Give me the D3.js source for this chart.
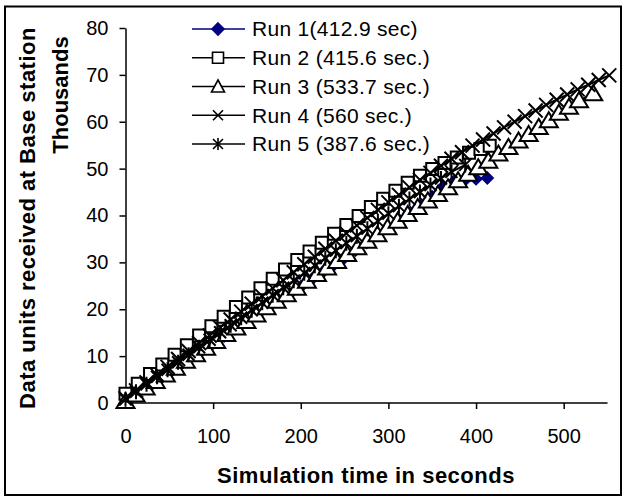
<!DOCTYPE html>
<html>
<head>
<meta charset="utf-8">
<script src="https://cdn.jsdelivr.net/npm/d3@7"></script>
<style>
  body { margin: 0; background: #fff; }
  text { font-family: "Liberation Sans", Arial, sans-serif; }
</style>
</head>
<body>
<script>
// values (time in sec, data units in thousands)
var run1Time  = [0,12.5,25,37.5,50,62.5,75,87.5,100,112.5,125,137.5,150,162.5,175,187.5,200,212.5,225,237.5,250,262.5,275,287.5,300,312.5,325,337.5,350,362.5,375,387.5,400,412.9];
var run1Value = [0.8,2.2,3.7,5.2,6.7,8.3,9.8,11.3,12.8,14.3,15.8,17.3,18.8,20.3,21.8,23.3,24.8,26.4,27.9,29.4,31.0,32.6,34.2,35.8,37.4,39.0,40.6,42.3,44.0,46.2,47.3,47.6,47.8,48.0];

var run2Time  = [0,14,28,42,56,70,84,98,112,126,140,154,168,182,196,210,224,238,252,266,280,294,308,322,336,350,364,378,392,405,415.6];
var run2Value = [2.0,4.1,6.2,8.2,10.3,12.3,14.4,16.4,18.4,20.5,22.5,24.5,26.5,28.5,30.5,32.3,34.2,36.1,38.0,39.9,41.8,43.6,45.3,47.0,48.5,49.9,51.2,52.4,53.4,54.2,54.9];

var run3Time  = [0,11.5,23,34.5,46,57.5,69,80.5,92,103.5,115,126.5,138,149.5,161,172.5,184,195.5,207,218.5,230,241.5,253,264.5,276,287.5,299,310.5,322,333.5,345,356.5,368,379.5,391,402.5,414,425.5,437,448.5,460,471.5,483,494.5,506,517.5,533.7];
var run3Value = [0.3,1.7,3.2,4.6,6.0,7.4,8.9,10.3,11.7,13.1,14.6,16.0,17.4,18.8,20.3,21.7,23.1,24.5,26.0,27.4,28.8,30.2,31.7,33.1,34.5,35.9,37.4,38.8,40.2,41.7,43.1,44.5,45.9,47.4,48.8,50.2,51.6,53.1,54.5,55.9,57.3,58.8,60.2,61.8,63.1,64.5,66.0];

var run4Time  = [0,12,24,36,48,60,72,84,96,108,120,132,144,156,168,180,192,204,216,228,240,252,264,276,288,300,312,324,336,348,360,372,384,396,408,420,432,444,456,468,480,492,504,516,528,540,552];
var run4Value = [1.0,2.7,4.4,6.0,7.7,9.4,11.1,12.8,14.4,16.1,17.8,19.5,21.2,22.8,24.5,26.2,27.9,29.6,31.2,32.9,34.6,36.2,37.9,39.5,41.2,42.8,44.4,46.0,47.6,49.1,50.6,52.1,53.5,54.9,56.2,57.5,58.8,60.0,61.2,62.4,63.6,64.7,65.8,66.9,67.9,68.9,69.9];

var run5Time  = [0,12,24,36,48,60,72,84,96,108,120,132,144,156,168,180,192,204,216,228,240,252,264,276,288,300,312,324,336,348,360,372,387.6];
var run5Value = [0.8,2.4,4.0,5.6,7.1,8.7,10.3,11.9,13.5,15.1,16.6,18.2,19.8,21.4,23.0,24.6,26.1,27.7,29.3,30.9,32.5,34.1,35.6,37.2,38.8,40.4,42.0,43.5,45.0,46.5,47.9,49.3,50.8];

var seriesNames = ["Run 1(412.9 sec)", "Run 2 (415.6 sec.)", "Run 3 (533.7 sec.)", "Run 4 (560 sec.)", "Run 5 (387.6 sec.)"];
var xTicks = [0, 100, 200, 300, 400, 500];
var yTicks = [0, 10, 20, 30, 40, 50, 60, 70, 80];

// marker paths, centred on 0,0 (plot markers are a bit bigger than legend ones)
var markers = {
  diamond:  "M0,-5.5L5.5,0L0,5.5L-5.5,0Z",
  square:   "M-6,-6H6V6H-6Z",
  triangle: "M0,-8.5L9,6.5L-9,6.5Z",
  cross:    "M-7,-7L7,7M-7,7L7,-7",
  star:     "M-6,-6L6,6M-6,6L6,-6M0,-7.5L0,7.5"
};
var legendMarkers = {
  diamond:  "M0,-6L6,0L0,6L-6,0Z",
  square:   "M-5.5,-5.5H5.5V5.5H-5.5Z",
  triangle: "M0,-6.5L6.5,5.5L-6.5,5.5Z",
  cross:    "M-5,-5L5,5M-5,5L5,-5",
  star:     "M-5,-5L5,5M-5,5L5,-5M0,-6L0,6"
};

function drawChart() {
  var width = 624, height = 497;

  var svg = d3.select("body").append("svg")
      .attr("width", width)
      .attr("height", height);

  // outer frame
  svg.append("rect")
      .attr("x", 5).attr("y", 6.5)
      .attr("width", 616).attr("height", 488.5)
      .attr("fill", "#fff")
      .attr("stroke", "#000")
      .attr("stroke-width", 2);

  var x = d3.scaleLinear().domain([0, 550]).range([125.5, 607.5]);
  var y = d3.scaleLinear().domain([0, 80]).range([403, 28]);

  var series = [
    { t: run1Time, v: run1Value, shape: "diamond",  color: "#000080", fill: "#000080" },
    { t: run2Time, v: run2Value, shape: "square",   color: "#000",    fill: "#fff" },
    { t: run3Time, v: run3Value, shape: "triangle", color: "#000",    fill: "#fff" },
    { t: run4Time, v: run4Value, shape: "cross",    color: "#000",    fill: "none" },
    { t: run5Time, v: run5Value, shape: "star",     color: "#000",    fill: "none" }
  ];

  // axes
  var yAxis = svg.append("g")
      .attr("transform", "translate(125.5,0)")
      .call(d3.axisLeft(y).tickValues(yTicks).tickSize(6).tickPadding(11).tickSizeOuter(0));
  var xAxis = svg.append("g")
      .attr("transform", "translate(0,403)")
      .call(d3.axisBottom(x).tickValues(xTicks).tickSize(6).tickPadding(20).tickSizeOuter(0));

  [xAxis, yAxis].forEach(function (a) {
    a.select(".domain").attr("stroke", "#000").attr("stroke-width", 1.5);
    a.selectAll(".tick line").attr("stroke", "#000").attr("stroke-width", 1.5);
    a.selectAll(".tick text").attr("fill", "#000").style("font-size", "20px");
  });
  // x axis line runs to the end of the plot
  xAxis.select(".domain").attr("d", "M125.5,0H607.5");

  // series: line first, then its markers
  var line = d3.line()
      .x(function (d) { return x(d[0]); })
      .y(function (d) { return y(d[1]); });

  series.forEach(function (s) {
    var pts = d3.zip(s.t, s.v);
    svg.append("path")
        .datum(pts)
        .attr("d", line)
        .attr("fill", "none")
        .attr("stroke", s.color)
        .attr("stroke-width", 2);
    svg.append("g").selectAll("path")
        .data(pts)
        .enter()
        .append("path")
        .attr("transform", function (d) { return "translate(" + x(d[0]) + "," + y(d[1]) + ")"; })
        .attr("d", markers[s.shape])
        .attr("fill", s.fill)
        .attr("stroke", s.color)
        .attr("stroke-width", 2);
  });

  // legend
  var legend = svg.append("g");
  seriesNames.forEach(function (name, i) {
    var s = series[i];
    var row = legend.append("g").attr("transform", "translate(0," + (29 + i * 28.75) + ")");
    row.append("line")
        .attr("x1", 192).attr("x2", 245)
        .attr("stroke", s.color).attr("stroke-width", 1.5);
    row.append("path")
        .attr("transform", "translate(218,0)")
        .attr("d", legendMarkers[s.shape])
        .attr("fill", s.fill)
        .attr("stroke", s.color)
        .attr("stroke-width", 1.6);
    row.append("text")
        .attr("x", 252).attr("dy", "0.35em")
        .style("font-size", "21px")
        .style("letter-spacing", "0.3px")
        .text(name);
  });

  // axis titles
  svg.append("text")
      .attr("x", 366).attr("y", 483)
      .attr("text-anchor", "middle")
      .style("font-size", "22px").style("font-weight", "bold")
      .style("letter-spacing", "0.5px")
      .text("Simulation time in seconds");

  svg.append("text")
      .attr("transform", "translate(35,218) rotate(-90)")
      .attr("text-anchor", "middle")
      .style("font-size", "22px").style("font-weight", "bold")
      .style("letter-spacing", "0.5px")
      .text("Data units received at Base station");

  svg.append("text")
      .attr("transform", "translate(68,95) rotate(-90)")
      .attr("text-anchor", "middle")
      .style("font-size", "22px").style("font-weight", "bold")
      .text("Thousands");
}

window.onload = drawChart;
</script>
</body>
</html>
